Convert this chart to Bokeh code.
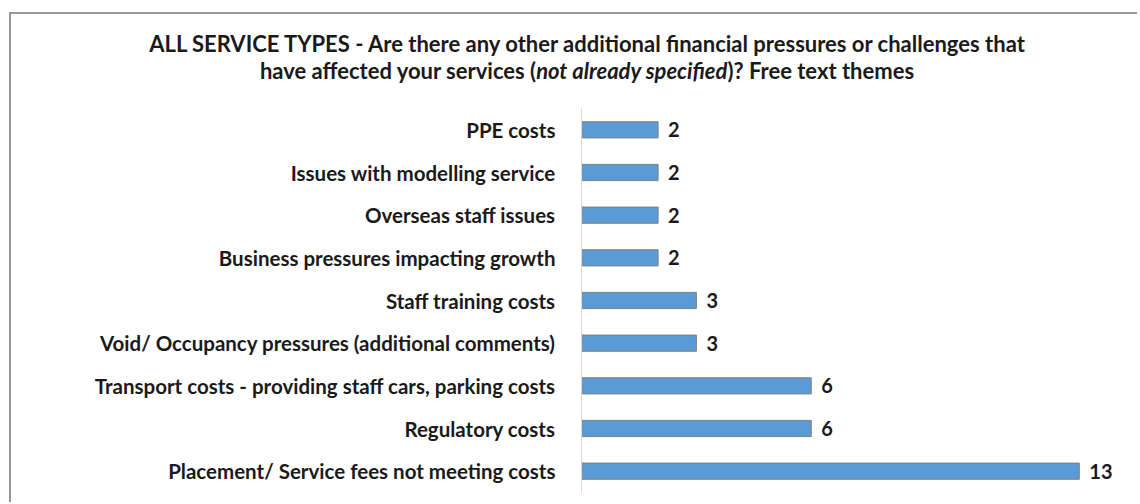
from bokeh.plotting import figure
from bokeh.models import Range1d, ColumnDataSource, FactorRange, Div
from bokeh.layouts import column
from bokeh.core.properties import value
from bokeh.embed import file_html
from bokeh.resources import INLINE

categories = [
    "PPE costs",
    "Issues with modelling service",
    "Overseas staff issues",
    "Business pressures impacting growth",
    "Staff training costs",
    "Void/ Occupancy pressures (additional comments)",
    "Transport costs - providing staff cars, parking costs",
    "Regulatory costs",
    "Placement/ Service fees not meeting costs",
]
counts = [2, 2, 2, 2, 3, 3, 6, 6, 13]

title_line1 = "ALL SERVICE TYPES - Are there any other additional financial pressures or challenges that"
title_line2_a = "have affected your services ("
title_line2_b = "not already specified"
title_line2_c = ")? Free text themes"

FONT = "Lato"
W = 1126
HT = 94          # title band height
HP = 394         # plot band height

# ---------- title band ----------
title_html = (
    '<div style="box-sizing:border-box;width:1126px;padding-top:16px;padding-left:26px;'
    'text-align:center;white-space:nowrap;'
    f'font-family:{FONT};font-weight:bold;font-size:22px;line-height:27px;color:#1a1a1a;">'
    f'{title_line1}<br>{title_line2_a}<i>{title_line2_b}</i>{title_line2_c}</div>'
)
tdiv = Div(text=title_html, width=W, height=HT, margin=0,
           styles={"background": "white"})

# ---------- bar chart ----------
src = ColumnDataSource(dict(cat=categories, val=counts, lbl=[str(v) for v in counts]))

p = figure(
    width=W, height=HP,
    y_range=FactorRange(*list(reversed(categories))),
    x_range=Range1d(0, 14.52),
    output_backend="svg", toolbar_location=None,
    min_border_left=570, min_border_right=0, min_border_top=0, min_border_bottom=10,
)
p.outline_line_color = None
p.xgrid.grid_line_color = None
p.ygrid.grid_line_color = None
p.xaxis.visible = False
p.background_fill_color = "white"
p.border_fill_color = "white"

p.hbar(y="cat", right="val", left=0, height=0.38, source=src,
       fill_color="#5b9bd5", line_color="#7f7f7f", line_width=1)

p.text(x="val", y="cat", text="lbl", source=src, x_offset=10,
       text_font=value(FONT), text_font_style="bold", text_font_size="20px",
       text_color="#1a1a1a", text_baseline="middle", text_align="left")

yax = p.yaxis[0]
yax.axis_line_color = "#d9d9d9"
yax.axis_line_width = 1
yax.major_tick_line_color = None
yax.minor_tick_line_color = None
yax.major_label_standoff = 20
yax.major_label_text_font = FONT
yax.major_label_text_font_style = "bold"
yax.major_label_text_font_size = "20.5px"
yax.major_label_text_color = "#1a1a1a"

layout = column(tdiv, p, spacing=0,
                styles={"border-top": "2px solid #9a9a9a", "border-left": "2px solid #9a9a9a",
                        "margin": "12px 0 0 9px", "background": "white"})

open("out.html", "w").write(file_html(layout, INLINE))
